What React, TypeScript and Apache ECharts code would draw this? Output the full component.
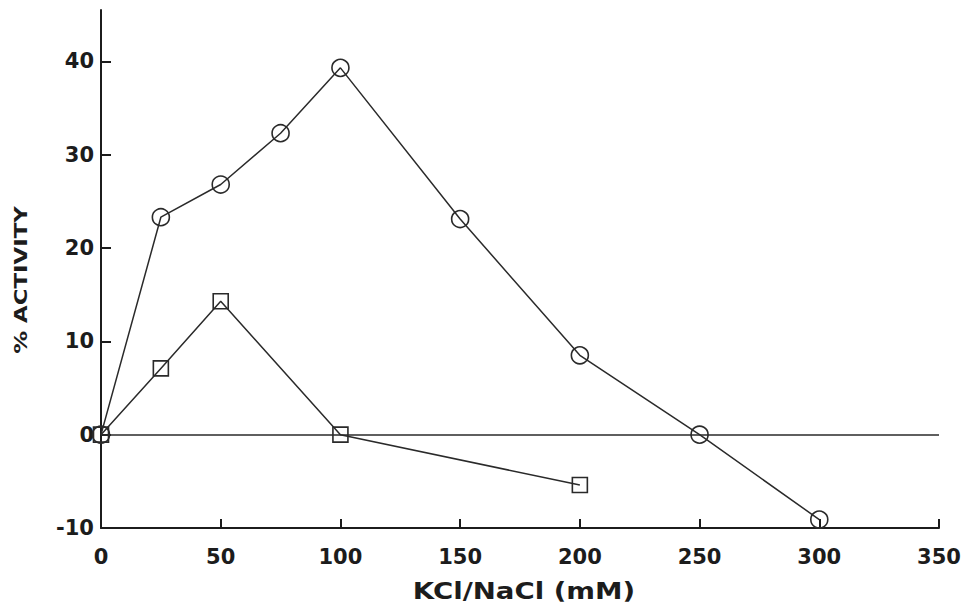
import React, { useEffect, useRef } from "react";
import * as echarts from "echarts";

const xCircle = [0, 25, 50, 75, 100, 150, 200, 250, 300];
const yCircle = [0, 23.3, 26.8, 32.3, 39.3, 23.1, 8.5, 0, -9.1];
const xSquare = [0, 25, 50, 100, 200];
const ySquare = [0, 7.1, 14.3, 0, -5.4];
const yTicks = [-10, 0, 10, 20, 30, 40];
const xName = "KCl/NaCl (mM)";
const yName = "% ACTIVITY";

const FONT = "DejaVu Sans";
const INK = "#1c1c1c";

export default function App() {
  const ref = useRef<HTMLDivElement>(null);
  useEffect(() => {
    if (!ref.current) return;
    const chart = echarts.init(ref.current, undefined, { renderer: "svg" });
    const pair = (xs: number[], ys: number[]) => xs.map((x, i) => [x, ys[i]]);
    chart.setOption({
      animation: false,
      backgroundColor: "#ffffff",
      grid: { left: 101, right: 27, top: 10, bottom: 85, containLabel: false, outerBoundsMode: "none" },
      xAxis: {
        type: "value",
        min: 0,
        max: 350,
        interval: 50,
        splitLine: { show: false },
        axisLine: { onZero: false, lineStyle: { color: INK, width: 2 } },
        axisTick: { inside: true, length: 9, lineStyle: { color: INK, width: 2 } },
        axisLabel: { margin: 18, color: INK, fontFamily: FONT, fontWeight: "bold", fontSize: 21 },
      },
      yAxis: {
        type: "value",
        min: -10,
        max: 45.5,
        interval: 10,
        splitLine: { show: false },
        axisLine: { onZero: false, lineStyle: { color: INK, width: 2 } },
        axisTick: { inside: true, length: 10, customValues: yTicks, lineStyle: { color: INK, width: 2 } },
        axisLabel: {
          margin: 7,
          customValues: yTicks,
          color: INK,
          fontFamily: FONT,
          fontWeight: "bold",
          fontSize: 21,
        },
      },
      graphic: [
        {
          type: "text",
          x: 524,
          y: 591,
          scaleX: 1.2,
          style: {
            text: xName,
            font: `bold 23px "${FONT}"`,
            fill: INK,
            align: "center",
            verticalAlign: "middle",
          },
        },
        {
          type: "text",
          x: 21,
          y: 280,
          rotation: Math.PI / 2,
          scaleX: 1.27,
          style: {
            text: yName,
            font: `bold 18px "${FONT}"`,
            fill: INK,
            align: "center",
            verticalAlign: "middle",
          },
        },
      ],
      series: [
        {
          type: "line",
          name: "circle",
          data: pair(xCircle, yCircle),
          clip: false,
          symbol: "circle",
          symbolSize: 17,
          lineStyle: { color: "#2a2a2a", width: 1.5 },
          itemStyle: { color: "rgba(0,0,0,0)", borderColor: "#2a2a2a", borderWidth: 1.6 },
          markLine: {
            silent: true,
            symbol: "none",
            label: { show: false },
            lineStyle: { color: "#2a2a2a", width: 1.5, type: "solid" },
            data: [{ yAxis: 0 }],
          },
          z: 3,
        },
        {
          type: "line",
          name: "square",
          data: pair(xSquare, ySquare),
          clip: false,
          symbol: "rect",
          symbolSize: 15,
          lineStyle: { color: "#2a2a2a", width: 1.5 },
          itemStyle: { color: "rgba(0,0,0,0)", borderColor: "#2a2a2a", borderWidth: 1.6 },
          z: 3,
        },
      ],
    });
    return () => chart.dispose();
  }, []);
  return <div ref={ref} style={{ width: 966, height: 613, position: "absolute", left: 0, top: 0 }} />;
}
